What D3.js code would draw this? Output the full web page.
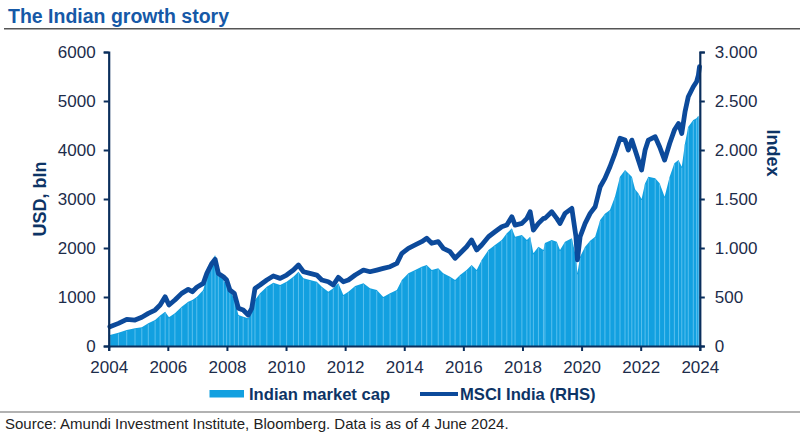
<!DOCTYPE html>
<html>
<head>
<meta charset="utf-8">
<script src="https://cdn.jsdelivr.net/npm/d3@7"></script>
<style>
  html, body { margin: 0; padding: 0; background: #fff; }
  svg { display: block; font-family: "Liberation Sans", Arial, sans-serif; }
</style>
</head>
<body>
<svg id="chart" width="800" height="436"></svg>
<script>
// ---- Data ----
const dates = [
  2004.04, 2004.33, 2004.61, 2004.89, 2005.12, 2005.34, 2005.57, 2005.74, 2005.91, 2006.04,
  2006.24, 2006.47, 2006.69, 2006.83, 2006.98, 2007.20, 2007.32, 2007.49, 2007.60, 2007.71,
  2007.88, 2007.99, 2008.10, 2008.25, 2008.39, 2008.55, 2008.72, 2008.84, 2008.95, 2009.12,
  2009.35, 2009.57, 2009.80, 2010.02, 2010.25, 2010.42, 2010.59, 2010.81, 2011.04, 2011.21,
  2011.43, 2011.60, 2011.77, 2011.94, 2012.11, 2012.34, 2012.62, 2012.84, 2013.07, 2013.29,
  2013.52, 2013.75, 2013.92, 2014.14, 2014.37, 2014.59, 2014.76, 2014.93, 2015.15, 2015.32,
  2015.55, 2015.72, 2015.89, 2016.11, 2016.28, 2016.45, 2016.62, 2016.85, 2017.07, 2017.30,
  2017.47, 2017.64, 2017.75, 2017.98, 2018.15, 2018.26, 2018.37, 2018.54, 2018.71, 2018.76,
  2018.99, 2019.16, 2019.27, 2019.44, 2019.67, 2019.81, 2019.86, 2019.95, 2020.12, 2020.29,
  2020.46, 2020.63, 2020.79, 2020.96, 2021.13, 2021.30, 2021.47, 2021.58, 2021.70, 2021.81,
  2021.92, 2022.03, 2022.15, 2022.26, 2022.49, 2022.64, 2022.81, 2022.98, 2023.14, 2023.28,
  2023.39, 2023.50, 2023.61, 2023.78, 2023.89, 2023.95, 2023.99
];
const marketCap = [
  224, 272, 327, 361, 381, 463, 531, 620, 700, 585,
  667, 802, 904, 940, 1000, 1143, 1414, 1720, 1857, 1483,
  1347, 1250, 1143, 950, 633, 598, 565, 694, 939, 1075,
  1211, 1293, 1245, 1313, 1415, 1517, 1381, 1347, 1313, 1211,
  1109, 1177, 1279, 1041, 1109, 1224, 1279, 1177, 1143, 1000,
  1075, 1143, 1347, 1483, 1551, 1619, 1653, 1551, 1585, 1483,
  1415, 1347, 1449, 1551, 1653, 1551, 1755, 1959, 2061, 2163,
  2299, 2401, 2231, 2265, 2163, 2231, 1891, 2027, 1959, 2100,
  2163, 2129, 1959, 2129, 2197, 1823, 1483, 1823, 2027, 2150,
  2231, 2571, 2700, 2776, 3047, 3455, 3592, 3524, 3455, 3200,
  3116, 3000, 3320, 3455, 3422, 3320, 3047, 3455, 3728, 3796,
  3660, 4136, 4475, 4612, 4646, 4700, 4620
];
const msciIndia = [
  197, 231, 272, 265, 293, 333, 367, 418, 503, 418,
  469, 537, 578, 554, 599, 639, 741, 843, 884, 741,
  707, 673, 571, 537, 385, 367, 316, 385, 588, 622,
  673, 714, 690, 724, 775, 826, 758, 741, 724, 673,
  656, 622, 700, 656, 673, 724, 775, 758, 775, 792,
  809, 843, 946, 997, 1031, 1065, 1099, 1048, 1065, 997,
  962, 895, 946, 1013, 1082, 980, 1031, 1115, 1166, 1217,
  1234, 1319, 1234, 1251, 1302, 1370, 1183, 1251, 1302, 1302,
  1370, 1302, 1251, 1353, 1404, 1115, 880, 1115, 1251, 1353,
  1421, 1625, 1710, 1829, 1966, 2119, 2101, 2000, 2101, 2000,
  1897, 1795, 2000, 2101, 2135, 2033, 1897, 2067, 2203, 2271,
  2169, 2390, 2543, 2645, 2696, 2760, 2850
];
const xTicks = [2004, 2006, 2008, 2010, 2012, 2014, 2016, 2018, 2020, 2022, 2024];
const leftTicks = [0, 1000, 2000, 3000, 4000, 5000, 6000];
const rightTicks = [0, 500, 1000, 1500, 2000, 2500, 3000];
const seriesNames = ["Indian market cap", "MSCI India (RHS)"];
const titleText = "The Indian growth story";
const leftTitle = "USD, bln";
const rightTitle = "Index";
const sourceText = "Source: Amundi Investment Institute, Bloomberg. Data is as of 4 June 2024.";

// ---- Layout ----
const svg = d3.select("#chart");
const X0 = 108.7, X1 = 699.8, Y0 = 346, Y1 = 52;
const barColor = "#12a0e0", lineColor = "#0c4a9b", axisColor = "#0a2e5c";
const tickText = "#1c2c4a", titleNavy = "#0d3466";

const x = d3.scaleLinear().domain([2004, 2024]).range([X0, X1]);
const yL = d3.scaleLinear().domain([0, 6000]).range([Y0, Y1]);
const yR = d3.scaleLinear().domain([0, 3000]).range([Y0, Y1]);

const data = dates.map((t, i) => ({ t, mc: marketCap[i], ix: msciIndia[i] }));

// Title + rule
svg.append("text").attr("x", 8).attr("y", 23)
  .attr("font-size", 19.5).attr("font-weight", "bold").attr("fill", "#1659a7")
  .text(titleText);
svg.append("line").attr("x1", 4).attr("x2", 800).attr("y1", 28.7).attr("y2", 28.7)
  .attr("stroke", "#555").attr("stroke-width", 1.5);

// Market cap (filled columns)
const area = d3.area().x(d => x(d.t)).y0(Y0).y1(d => yL(d.mc)).curve(d3.curveLinear);
svg.append("path").datum(data).attr("d", area).attr("fill", barColor);
svg.append("g").selectAll("line").data(data).join("line")
  .attr("x1", d => x(d.t)).attr("x2", d => x(d.t))
  .attr("y1", Y0).attr("y2", d => yL(d.mc) + 1)
  .attr("stroke", "#62c3ef").attr("stroke-width", 0.9);

// MSCI India line
const line = d3.line().x(d => x(d.t)).y(d => yR(d.ix)).curve(d3.curveLinear);
svg.append("path").datum(data).attr("d", line)
  .attr("fill", "none").attr("stroke", lineColor).attr("stroke-width", 4.8)
  .attr("stroke-linejoin", "round").attr("stroke-linecap", "round");

// Axes
function styleAxis(g) {
  g.select(".domain").attr("stroke", axisColor).attr("stroke-width", 2.2);
  g.selectAll(".tick line").attr("stroke", axisColor).attr("stroke-width", 2);
  g.selectAll(".tick text").attr("fill", tickText)
    .attr("font-size", 17).attr("font-family", "Liberation Sans, Arial, sans-serif");
}
const gL = svg.append("g").attr("transform", `translate(${X0},0)`)
  .call(d3.axisLeft(yL).tickValues(leftTicks).tickFormat(d3.format("d")).tickSizeOuter(0).tickSize(5).tickPadding(8));
styleAxis(gL);

const loc = d3.formatLocale({ decimal: ",", thousands: ".", grouping: [3], currency: ["", ""] });
const gR = svg.append("g").attr("transform", `translate(${X1},0)`)
  .call(d3.axisRight(yR).tickValues(rightTicks).tickFormat(loc.format(",d")).tickSizeOuter(0).tickSize(5).tickPadding(10));
styleAxis(gR);

const gB = svg.append("g").attr("transform", `translate(0,${Y0})`)
  .call(d3.axisBottom(x).tickValues(xTicks).tickFormat(d3.format("d")).tickSizeOuter(0).tickSize(5).tickPadding(10));
styleAxis(gB);

// Axis titles
svg.append("text").attr("transform", "translate(46,199) rotate(-90)")
  .attr("text-anchor", "middle").attr("font-size", 18).attr("font-weight", "bold")
  .attr("fill", titleNavy).text(leftTitle);
svg.append("text").attr("transform", "translate(767,153) rotate(90)")
  .attr("text-anchor", "middle").attr("font-size", 18).attr("font-weight", "bold")
  .attr("fill", titleNavy).text(rightTitle);

// Legend
const lg = svg.append("g");
lg.append("rect").attr("x", 209.5).attr("y", 390).attr("width", 34.5).attr("height", 7.5).attr("fill", barColor);
lg.append("text").attr("x", 249).attr("y", 400).attr("font-size", 16.6).attr("font-weight", "bold")
  .attr("fill", titleNavy).text(seriesNames[0]);
lg.append("line").attr("x1", 420).attr("x2", 458).attr("y1", 394).attr("y2", 394)
  .attr("stroke", lineColor).attr("stroke-width", 4);
lg.append("text").attr("x", 460).attr("y", 400).attr("font-size", 16.6).attr("font-weight", "bold")
  .attr("fill", titleNavy).text(seriesNames[1]);

// Source
svg.append("line").attr("x1", 0).attr("x2", 800).attr("y1", 412).attr("y2", 412)
  .attr("stroke", "#999").attr("stroke-width", 1.5);
svg.append("text").attr("x", 5).attr("y", 428.5).attr("font-size", 15).attr("fill", "#222")
  .text(sourceText);
</script>
</body>
</html>
